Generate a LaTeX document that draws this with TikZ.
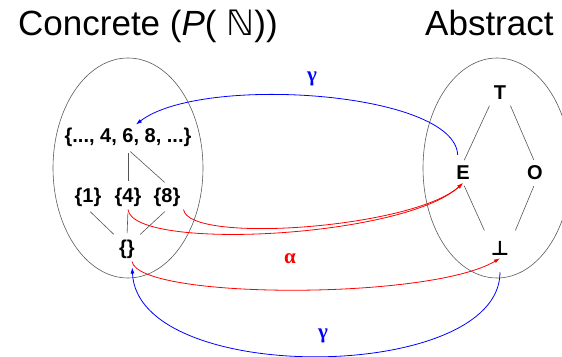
\documentclass[tikz,border=0pt]{standalone}
\usepackage{fontspec}
\setmainfont{Liberation Sans}
\newfontfamily\dvsans{DejaVu Sans}
\newfontfamily\grkserif{Liberation Serif}
\usepackage{tikz}
\usetikzlibrary{arrows.meta,shapes.geometric}
\definecolor{AIRing}{HTML}{5A5A5A}
\definecolor{AIEdge}{HTML}{555555}
\definecolor{AIRed}{HTML}{FF0000}
\definecolor{AIBlue}{HTML}{0000FF}
\tikzset{
  setring/.style={draw=AIRing,line width=0.6pt,ellipse,minimum width=150pt,
                  minimum height=220pt,inner sep=0pt},
  heading/.style={anchor=base west,inner sep=0pt,font=\fontsize{35}{40}\selectfont},
  elem/.style={font=\fontsize{20}{24}\selectfont\bfseries,inner sep=3pt},
  order/.style={draw=AIEdge,line width=0.6pt,shorten <=3pt,shorten >=3pt},
  abst/.style={-{Latex[length=6pt,width=4pt]},AIRed,line width=0.8pt},
  conc/.style={abst,AIBlue},
  maplabel/.style={font=\fontsize{21}{24}\selectfont\grkserif\bfseries},
}
\begin{document}
\begin{tikzpicture}[x=1pt,y=-1pt]
    \clip (0,0) rectangle (562,356);
    \node[heading] (conctitle) at (18,35) {Concrete (\textit{P}( {\dvsans ℕ}))};
    \node[heading] (abstitle) at (425,35) {Abstract};
    \node[setring] (concset) at (128,168) {};
    \node[setring,minimum width=148pt] (absset) at (497,168) {};
    \node[elem] (evens) at (128,137) {\{..., 4, 6, 8, ...\}};
    \node[elem] (one) at (88,197) {\{1\}};
    \node[elem] (four) at (128,197) {\{4\}};
    \node[elem] (eight) at (167,197) {\{8\}};
    \node[elem] (empty) at (127,249) {\{\}};
    \node[elem] (top) at (500,93) {T};
    \node[elem] (even) at (463,173) {E};
    \node[elem] (odd) at (535,173) {O};
    \node[elem,font=\fontsize{20}{22}\selectfont\dvsans\bfseries] (bot) at (500,248) {⊥};
    \draw[order] (evens.south) -- (four.north);
    \draw[order] (evens.south) -- (eight.north);
    \draw[order] (one.south) -- (empty.north west);
    \draw[order] (four.south) -- (empty.north);
    \draw[order] (eight.south) -- (empty.north east);
    \draw[order] (top.south west) -- (even.north);
    \draw[order] (top.south east) -- (odd.north);
    \draw[order,shorten >=8pt] (even.south) -- (bot.north west);
    \draw[order,shorten >=8pt] (odd.south) -- (bot.north east);
    \draw[conc,shorten <=8pt] ([xshift=-5pt]even.north) .. controls +(-3,-72) and +(64,-50) .. ([xshift=8pt]evens.north);
    \draw[abst] (eight.south east) .. controls +(5,35) and +(-50,45) .. (even.south);
    \draw[abst] (four.south) .. controls +(5,42) and +(-60,55) .. (even.south);
    \draw[abst] ([xshift=5pt]empty.south) .. controls +(7,38) and +(-70,42) .. (bot.south);
    \draw[conc,shorten <=14pt,shorten >=6pt] (bot.south) .. controls +(0,125) and +(5,125) .. ([xshift=5pt]empty.south);
    \node[maplabel,text=AIBlue] (gammaup) at (312,79) {γ};
    \node[maplabel,text=AIRed] (alphamid) at (290,259) {α};
    \node[maplabel,text=AIBlue] (gammadown) at (323,336) {γ};
\end{tikzpicture}
\end{document}
